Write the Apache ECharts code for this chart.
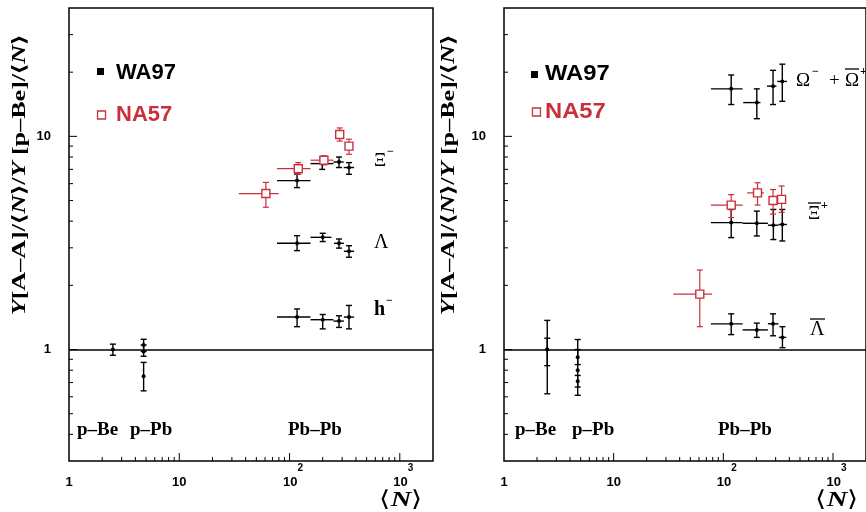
<!DOCTYPE html>
<html><head><meta charset="utf-8">
<script src="https://cdn.jsdelivr.net/npm/echarts@6/dist/echarts.min.js"></script>
<style>html,body{margin:0;padding:0;background:#fff}#c{width:866px;height:512px}</style>
</head><body><div id="c"></div><script>
// rows: [N, Y, N_low, N_high, Y_low, Y_high]  (0 = no horizontal error)
// ---- left panel ----
const pBeLeftWA97 = [[2.5, 1.0, 0, 0, 0.94, 1.06]];
const pPbLeftWA97 = [[4.75, 1.05, 0, 0, 0.98, 1.117], [4.75, 0.98, 0, 0, 0.93, 1.05], [4.75, 0.75, 0, 0, 0.64, 0.87]];
const xiMinusWA97 = [[117, 6.2, 77, 155, 5.75, 6.65], [198, 7.45, 155, 250, 7.0, 7.9], [281, 7.58, 250, 310, 7.14, 8.0], [346, 7.14, 310, 385, 6.64, 7.53]];
const lambdaWA97 = [[117, 3.15, 77, 155, 2.91, 3.42], [200, 3.36, 155, 240, 3.21, 3.51], [281, 3.15, 253, 311, 2.99, 3.30], [346, 2.89, 311, 385, 2.71, 3.07]];
const hMinusWA97 = [[117, 1.42, 77, 155, 1.28, 1.55], [200, 1.38, 155, 250, 1.25, 1.46], [281, 1.36, 250, 311, 1.27, 1.44], [346, 1.42, 311, 385, 1.25, 1.61]];
const xiMinusNA57 = [[61, 5.39, 34.6, 79.6, 4.65, 6.08], [120, 7.05, 77, 155, 6.64, 7.53], [205, 7.73, 155, 250, 7.35, 8.1], [285, 10.2, 0, 0, 9.5, 10.95], [346, 9.0, 0, 0, 8.24, 9.7]];
// ---- right panel ----
const pBeRightWA97 = [[2.48, 1.0, 0, 0, 0.62, 1.37], [2.48, 1.0, 0, 0, 0.84, 1.13]];
const pPbRightWA97 = [[4.7, 0.92, 0, 0, 0.85, 1.0], [4.7, 0.80, 0, 0, 0.61, 1.114], [4.7, 0.71, 0, 0, 0.667, 0.756]];
const omegaWA97 = [[118, 16.7, 77, 150, 14.1, 19.4], [202, 14.4, 152, 218, 12.1, 16.7], [284, 17.2, 250, 305, 14.1, 20.4], [345, 18.1, 310, 380, 14.6, 21.8]];
const xiPlusWA97 = [[118, 3.94, 77, 150, 3.35, 4.54], [202, 3.91, 150, 255, 3.41, 4.46], [286, 3.83, 255, 318, 3.28, 4.54], [345, 3.86, 318, 380, 3.23, 4.54]];
const xiPlusNA57 = [[118, 4.76, 77, 150, 4.16, 5.33], [205, 5.43, 165, 235, 4.76, 6.06], [284, 5.0, 265, 300, 4.32, 5.63], [340, 5.06, 0, 0, 4.4, 5.85]];
const lambdaBarWA97 = [[118, 1.32, 77, 150, 1.175, 1.47], [202, 1.236, 150, 255, 1.14, 1.33], [284, 1.32, 255, 318, 1.16, 1.47], [346, 1.14, 320, 375, 1.02, 1.28]];
const lambdaBarNA57 = [[61, 1.82, 35, 79, 1.28, 2.36]];
// axis ticks
const xMajorTicks = [10, 100, 1000];
const xMinorTicks = [2, 3, 4, 5, 6, 7, 8, 9, 20, 30, 40, 50, 60, 70, 80, 90, 200, 300, 400, 500, 600, 700, 800, 900];
const yMajorTicks = [1, 10];
const yMinorTicks = [0.4, 0.5, 0.6, 0.7, 0.8, 0.9, 2, 3, 4, 5, 6, 7, 8, 9, 20, 30];
const X_MIN = 1, X_MAX = 2000, Y_MIN = 0.3, Y_MAX = 40;

const RED = '#c9303e';
const SERIF = 'Liberation Serif';
const SANS = 'Liberation Sans';

function errRender(color, lw) {
  return function (params, api) {
    const x = api.value(0), y = api.value(1), xl = api.value(2), xh = api.value(3), yl = api.value(4), yh = api.value(5);
    const ch = [];
    const st = { stroke: color, lineWidth: lw };
    if (xl > 0 && xh > 0) {
      const a = api.coord([xl, y]), b = api.coord([xh, y]);
      ch.push({ type: 'line', shape: { x1: a[0], y1: a[1], x2: b[0], y2: b[1] }, style: st });
    }
    const t = api.coord([x, yh]), bo = api.coord([x, yl]);
    ch.push({ type: 'line', shape: { x1: t[0], y1: t[1], x2: bo[0], y2: bo[1] }, style: st });
    ch.push({ type: 'line', shape: { x1: t[0] - 3, y1: t[1], x2: t[0] + 3, y2: t[1] }, style: st });
    ch.push({ type: 'line', shape: { x1: bo[0] - 3, y1: bo[1], x2: bo[0] + 3, y2: bo[1] }, style: st });
    return { type: 'group', children: ch };
  };
}
function tickRender(params, api) {
  const p = api.coord([api.value(0), api.value(1)]);
  const k = api.value(2);
  const st = { stroke: '#000', lineWidth: 1 };
  if (k === 0 || k === 1) {
    const len = k === 1 ? 8 : 4;
    return { type: 'line', shape: { x1: p[0], y1: p[1], x2: p[0], y2: p[1] - len }, style: st };
  }
  const len = k === 3 ? 8 : 4;
  return { type: 'line', shape: { x1: p[0], y1: p[1], x2: p[0] + len, y2: p[1] }, style: st };
}
const tickData = [].concat(
  xMinorTicks.map(v => [v, Y_MIN, 0]), xMajorTicks.map(v => [v, Y_MIN, 1]),
  yMinorTicks.map(v => [X_MIN, v, 2]), yMajorTicks.map(v => [X_MIN, v, 3]));

function isPow10(v) { const e = Math.log10(v); return Math.abs(e - Math.round(e)) < 1e-6 ? Math.round(e) : null; }
function xFmt(v) {
  const e = isPow10(v); if (e === null) return '';
  if (e === 0) return '{b|1}'; if (e === 1) return '{b|10}';
  return '{p|}{b|10}{s|' + e + '}';
}
function yFmt(v) { const e = isPow10(v); if (e === null) return ''; return e === 0 ? '1' : (e === 1 ? '10' : ''); }

const grids = [
  { left: 69, top: 8, width: 364, height: 453, show: true, borderColor: '#000', borderWidth: 1.5 },
  { left: 504, top: 8, width: 364, height: 453, show: true, borderColor: '#000', borderWidth: 1.5 }
];
const xAxes = [0, 1].map(i => ({
  type: 'log', logBase: 10, gridIndex: i, min: X_MIN, max: X_MAX,
  axisLine: { show: false }, axisTick: { show: false }, splitLine: { show: false },
  axisLabel: { formatter: xFmt, margin: 2, showMinLabel: true, showMaxLabel: false,
    rich: { b: { fontFamily: SANS, fontWeight: 'bold', fontSize: 13, color: '#000', lineHeight: 26, verticalAlign: 'bottom' },
            p: { width: 7, lineHeight: 12 },
            s: { fontFamily: SANS, fontWeight: 'bold', fontSize: 10, color: '#000', lineHeight: 12, verticalAlign: 'top' } } }
}));
const yAxes = [0, 1].map(i => ({
  type: 'log', logBase: 10, gridIndex: i, min: Y_MIN, max: Y_MAX,
  axisLine: { show: false }, axisTick: { show: false }, splitLine: { show: false },
  axisLabel: { formatter: yFmt, margin: 18, fontFamily: SANS, fontWeight: 'bold', fontSize: 13, color: '#000', showMinLabel: false, showMaxLabel: false }
}));

const series = [];
function addSet(panel, arr, exp) {
  const color = exp === 'NA57' ? RED : '#000';
  series.push({ type: 'custom', name: exp, xAxisIndex: panel, yAxisIndex: panel, data: arr, encode: { x: 0, y: 1 },
    renderItem: errRender(color, exp === 'NA57' ? 1.2 : 1.4), silent: true, z: 3 });
  series.push({ type: 'scatter', name: exp, xAxisIndex: panel, yAxisIndex: panel, data: arr.map(r => [r[0], r[1]]),
    symbol: exp === 'NA57' ? 'rect' : 'circle', symbolSize: exp === 'NA57' ? 8 : 4,
    itemStyle: exp === 'NA57' ? { color: '#fff', borderColor: RED, borderWidth: 1.4, opacity: 1 } : { color: '#000', opacity: 1 },
    silent: true, z: 4 });
}
[0, 1].forEach(p => {
  series.push({ type: 'custom', xAxisIndex: p, yAxisIndex: p, data: tickData, encode: { x: 0, y: 1 }, renderItem: tickRender, silent: true, z: 2 });
  series.push({ type: 'line', xAxisIndex: p, yAxisIndex: p, data: [], markLine: { silent: true, symbol: 'none', label: { show: false },
    lineStyle: { color: '#000', width: 1.5, type: 'solid' }, data: [{ yAxis: 1 }] } });
});
addSet(0, pBeLeftWA97, 'WA97'); addSet(0, pPbLeftWA97, 'WA97');
addSet(0, xiMinusWA97, 'WA97'); addSet(0, lambdaWA97, 'WA97'); addSet(0, hMinusWA97, 'WA97');
addSet(0, xiMinusNA57, 'NA57');
addSet(1, pBeRightWA97, 'WA97'); addSet(1, pPbRightWA97, 'WA97');
addSet(1, omegaWA97, 'WA97'); addSet(1, xiPlusWA97, 'WA97'); addSet(1, lambdaBarWA97, 'WA97');
addSet(1, xiPlusNA57, 'NA57'); addSet(1, lambdaBarNA57, 'NA57');

function txt(x, y, text, size, opts) {
  opts = opts || {};
  return { type: 'text', x: x, y: y, rotation: opts.rot || 0, scaleX: opts.sx || 1, silent: true, z: 10,
    style: { text: text, fontFamily: opts.font || SERIF, fontSize: size, fontWeight: opts.weight || 'bold', fontStyle: opts.italic ? 'italic' : 'normal',
      fill: opts.color || '#000', align: opts.align || 'left', verticalAlign: 'middle', rich: opts.rich } };
}
function ln(x1, y1, x2, y2, w) { return { type: 'line', silent: true, z: 10, shape: { x1, y1, x2, y2 }, style: { stroke: '#000', lineWidth: w || 1.3 } }; }
const yTitleRich = {
  i: { fontFamily: SERIF, fontStyle: 'italic', fontWeight: 'bold', fontSize: 18 },
  r: { fontFamily: SERIF, fontWeight: 'bold', fontSize: 18 }
};
const yTitle = '{i|Y}{r|[A–A]/⟨}{i|N}{r|⟩/}{i|Y}{r| [p–Be]/⟨}{i|N}{r|⟩}';
const nRich = { r: { fontFamily: SERIF, fontSize: 22 }, i: { fontFamily: SERIF, fontStyle: 'italic', fontWeight: 'bold', fontSize: 22 } };
const graphic = [
  txt(20, 175, yTitle, 18, { rot: Math.PI / 2, align: 'center', rich: yTitleRich, sx: 1.45 }),
  txt(449, 175, yTitle, 18, { rot: Math.PI / 2, align: 'center', rich: yTitleRich, sx: 1.45 }),
  txt(401, 500, '{r|⟨}{i|N}{r|⟩}', 22, { align: 'center', rich: nRich, sx: 1.3 }),
  txt(837, 500, '{r|⟨}{i|N}{r|⟩}', 22, { align: 'center', rich: nRich, sx: 1.3 }),
  // legends
  { type: 'rect', shape: { x: 97, y: 68, width: 7, height: 7 }, style: { fill: '#000' }, silent: true },
  txt(116, 73, 'WA97', 22, { font: SANS }),
  { type: 'rect', shape: { x: 97.5, y: 111, width: 8, height: 8 }, style: { fill: '#fff', stroke: RED, lineWidth: 1.3 }, silent: true },
  txt(116, 115, 'NA57', 22, { font: SANS, color: RED }),
  { type: 'rect', shape: { x: 531, y: 71, width: 7, height: 7 }, style: { fill: '#000' }, silent: true },
  txt(545, 74, 'WA97', 22, { font: SANS, sx: 1.08 }),
  { type: 'rect', shape: { x: 532.5, y: 108, width: 8, height: 8 }, style: { fill: '#fff', stroke: RED, lineWidth: 1.3 }, silent: true },
  txt(545, 112, 'NA57', 22, { font: SANS, color: RED, sx: 1.08 }),
  // system labels
  txt(77, 430, 'p–Be', 19), txt(130, 430, 'p–Pb', 19), txt(288, 430, 'Pb–Pb', 19),
  txt(515, 430, 'p–Be', 19), txt(572, 430, 'p–Pb', 19), txt(718, 430, 'Pb–Pb', 19),
  // particle labels left
  txt(374, 161, 'Ξ', 19, { weight: 'normal' }), txt(387, 152, '−', 12, { weight: 'bold' }),
  txt(374, 243, 'Λ', 20, { weight: 'normal' }),
  txt(374, 310, 'h', 20), txt(386, 301, '−', 12),
  // particle labels right
  txt(796, 81, 'Ω', 19, { weight: 'normal' }), txt(812, 72, '−', 12),
  txt(829, 81, '+', 19, { weight: 'normal' }),
  txt(845, 81, 'Ω', 19, { weight: 'normal' }), ln(845, 69, 859, 69), txt(860, 72, '+', 12),
  txt(808, 214, 'Ξ', 19, { weight: 'normal' }), ln(808, 203, 821, 203), txt(821, 206, '+', 12),
  txt(810, 330, 'Λ', 20, { weight: 'normal' }), ln(810, 319, 825, 319)
];

const chart = echarts.init(document.getElementById('c'), null, { renderer: 'canvas' });
chart.setOption({
  animation: false, backgroundColor: '#fff',
  grid: grids, xAxis: xAxes, yAxis: yAxes, series: series, graphic: graphic
});
</script></body></html>
